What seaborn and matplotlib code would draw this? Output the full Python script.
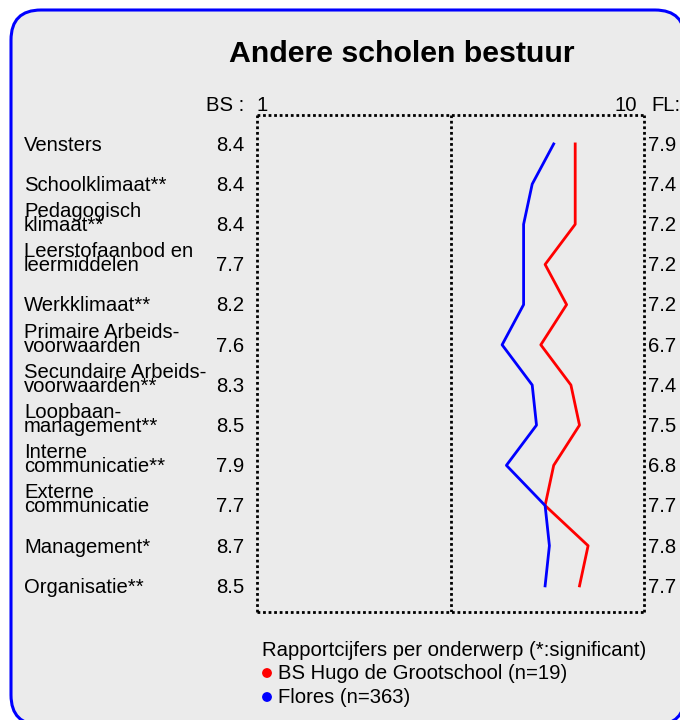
import matplotlib
matplotlib.use('Agg')
import matplotlib.pyplot as plt
from matplotlib.patches import FancyBboxPatch, Circle
from matplotlib import transforms
import pandas as pd
import seaborn as sns

# --- data ---
topics = ["Vensters", "Schoolklimaat**", "Pedagogisch\nklimaat**",
          "Leerstofaanbod en\nleermiddelen", "Werkklimaat**",
          "Primaire Arbeids-\nvoorwaarden", "Secundaire Arbeids-\nvoorwaarden**",
          "Loopbaan-\nmanagement**", "Interne\ncommunicatie**",
          "Externe\ncommunicatie", "Management*", "Organisatie**"]
bs_scores = [8.4, 8.4, 8.4, 7.7, 8.2, 7.6, 8.3, 8.5, 7.9, 7.7, 8.7, 8.5]
fl_scores = [7.9, 7.4, 7.2, 7.2, 7.2, 6.7, 7.4, 7.5, 6.8, 7.7, 7.8, 7.7]
bs_name = "BS Hugo de Grootschool (n=19)"
fl_name = "Flores (n=363)"
title = "Andere scholen bestuur"
legend_title = "Rapportcijfers per onderwerp (*:significant)"

W, H = 680, 720
BG = '#ebebeb'
RED = '#ff0000'
BLUE = '#0000ff'

plt.rcParams['font.family'] = ['Liberation Sans', 'DejaVu Sans']


def fx(px):
    return px / W


def fy(py):
    return 1 - py / H


fig = plt.figure(figsize=(W / 100, H / 100), dpi=100, facecolor='white')

# rounded blue frame (runs off the right and bottom edge)
frame = FancyBboxPatch((0.11, -0.05), 6.74, 7.15,
                       boxstyle="round,pad=0,rounding_size=0.3",
                       transform=fig.dpi_scale_trans, facecolor=BG,
                       edgecolor=BLUE, linewidth=2.2, zorder=-5)
fig.patches.append(frame)

ax = fig.add_axes([fx(257), fy(612), fx(644) - fx(257), fy(115) - fy(612)])
ax.set_facecolor('none')
ax.set_zorder(2)

rows = list(range(len(topics)))
df = pd.DataFrame({
    'pos': rows * 2,
    'score': bs_scores + fl_scores,
    'school': [bs_name] * len(rows) + [fl_name] * len(rows),
})
sns.lineplot(data=df, x='score', y='pos', hue='school', sort=False,
             orient='y', estimator=None, palette={bs_name: RED, fl_name: BLUE},
             linewidth=2, legend=False, ax=ax)

ax.set_xlim(1, 10)
ax.set_ylim(11.65, -0.72)
ax.set_xticks([])
ax.set_yticks([])
ax.set_xlabel('')
ax.set_ylabel('')
for sp in ax.spines.values():
    sp.set_linestyle((0, (1, 1)))
    sp.set_linewidth(2)
    sp.set_capstyle('butt')
    sp.set_color('black')
ax.axvline(5.5, color='black', linestyle=(0, (1, 1)), linewidth=2,
           dash_capstyle='butt')

# row labels and values
tr = transforms.blended_transform_factory(fig.transFigure, ax.transData)
fs = 14.6
line_gap = 14 / 40.2
for i, (name, b, f) in enumerate(zip(topics, bs_scores, fl_scores)):
    base = i + 0.17
    lines = name.split('\n')
    for k, ln in enumerate(lines):
        off = (len(lines) - 1 - k) * line_gap
        fig.text(fx(24), base - off, ln, transform=tr, fontsize=fs,
                 va='baseline', ha='left')
    fig.text(fx(244), base, f"{b:.1f}", transform=tr, fontsize=fs,
             va='baseline', ha='right')
    fig.text(fx(648), base, f"{f:.1f}", transform=tr, fontsize=fs,
             va='baseline', ha='left')

# header texts
fig.text(fx(402), fy(62), title, fontsize=21.8, fontweight='bold',
         ha='center', va='baseline')
fig.text(fx(244), fy(111), "BS :", fontsize=fs, ha='right', va='baseline')
fig.text(fx(262), fy(111), "1", fontsize=fs, ha='center', va='baseline')
fig.text(fx(637), fy(111), "10", fontsize=fs, ha='right', va='baseline')
fig.text(fx(651), fy(111), "FL:", fontsize=fs, ha='left', va='baseline')

# legend
fig.text(fx(262), fy(656), legend_title, fontsize=fs, ha='left', va='baseline')
for py, col, lab in [(673, RED, bs_name), (697, BLUE, fl_name)]:
    fig.patches.append(Circle((fx(267) * W / 100, fy(py) * H / 100), 0.042,
                              transform=fig.dpi_scale_trans, color=col))
    fig.text(fx(278), fy(py + 6), lab, fontsize=fs, ha='left', va='baseline')

fig.savefig('out.png', dpi=100, facecolor='white')
